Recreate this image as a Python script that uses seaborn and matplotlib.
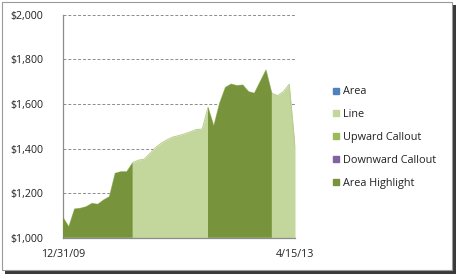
import matplotlib
matplotlib.use("Agg")
import matplotlib.pyplot as plt
import seaborn as sns
import numpy as np
import pandas as pd
from matplotlib.lines import Line2D
from matplotlib.patches import Rectangle

# ---- data ----
values = [1091, 1049, 1129, 1132, 1139, 1154, 1150, 1169, 1184, 1289,
          1296, 1296, 1336, 1348, 1352, 1378, 1405, 1425, 1440, 1452,
          1458, 1466, 1475, 1485, 1487, 1585, 1501, 1603, 1674, 1689,
          1682, 1685, 1655, 1648, 1700, 1752, 1648, 1637, 1655, 1688,
          1408]
highlight_ranges = [(0, 12), (25, 36)]
x_tick_labels = ["12/31/09", "4/15/13"]
y_ticks = [1000, 1200, 1400, 1600, 1800, 2000]
legend_labels = ["Area", "Line", "Upward Callout", "Downward Callout", "Area Highlight"]
legend_colors = ["#4F81BD", "#C3D69B", "#9BBB59", "#8064A2", "#77933C"]

n = len(values)
df = pd.DataFrame({"idx": np.arange(n), "value": values})
mask = np.zeros(n, dtype=bool)
for a, b in highlight_ranges:
    mask[a:b + 1] = True
df["highlight"] = mask

sns.set_theme(style="white")
plt.rcParams["font.family"] = ["Open Sans", "DejaVu Sans"]

fig = plt.figure(figsize=(4.58, 2.76), dpi=100)
fig.patch.set_facecolor("white")

# chart frame with shadow
W, H = 458, 276
shadow = Rectangle((5 / W, 2 / H), 451 / W, 269 / H, transform=fig.transFigure,
                   facecolor="#3a3a3a", edgecolor="none", zorder=-3)
frame = Rectangle((2 / W, 6 / H), 450 / W, 268 / H, transform=fig.transFigure,
                  facecolor="white", edgecolor="#9a9a9a", linewidth=0.8, zorder=-2)
fig.patches.extend([shadow, frame])

ax = fig.add_axes([63 / W, 38.3 / H, 232 / W, 223 / H])
ax.set_facecolor("none")

# light area (full series)
ax.fill_between(df["idx"], df["value"], 1000, color="#C3D69B", linewidth=0, zorder=2)
sns.lineplot(data=df, x="idx", y="value", ax=ax, color="#B7CC8C", linewidth=0.7, zorder=2.5)
# highlight areas
ax.fill_between(df["idx"], df["value"], 1000, where=df["highlight"], color="#77933C",
                linewidth=0, interpolate=False, zorder=3)

ax.set_xlim(0, n - 1)
ax.set_ylim(1000, 2000)
ax.set_yticks(y_ticks)
ax.set_yticklabels([f"${v:,}" for v in y_ticks], fontsize=7.7, color="#222222")
ax.set_xticks([0, n - 1])
ax.set_xticklabels(x_tick_labels, fontsize=7.7, color="#222222")
ax.tick_params(axis="y", length=0, pad=14)
ax.tick_params(axis="x", length=0, pad=8)
ax.set_xlabel("")
ax.set_ylabel("")

for y in y_ticks[1:]:
    ax.axhline(y, color="#8c8c8c", linestyle=(0, (3, 2)), linewidth=0.7, zorder=1)

for s in ["top", "right"]:
    ax.spines[s].set_visible(False)
ax.spines["left"].set_color("#8c8c8c")
ax.spines["bottom"].set_color("#8c8c8c")
ax.spines["left"].set_linewidth(0.9)
ax.spines["bottom"].set_linewidth(0.9)

handles = [Line2D([], [], marker="s", linestyle="none", markersize=4.5,
                  markerfacecolor=c, markeredgecolor=c) for c in legend_colors]
leg = fig.legend(handles, legend_labels, loc="upper left",
                 bbox_to_anchor=(328 / W, 1 - 82 / H), frameon=False,
                 fontsize=7.8, handlelength=0.6, handletextpad=0.4,
                 labelspacing=1.1, borderaxespad=0)
for t in leg.get_texts():
    t.set_color("#222222")

fig.savefig("out.png", dpi=100, facecolor="white")
